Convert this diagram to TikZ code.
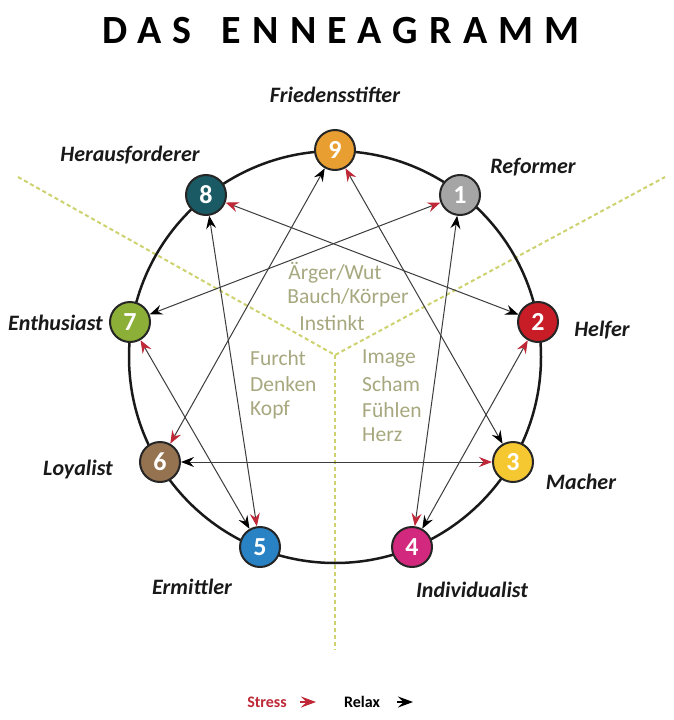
\documentclass[tikz,border=0pt]{standalone}
\usepackage{fontspec}
\setmainfont{Carlito}
\usetikzlibrary{arrows.meta}
\definecolor{cnine}{RGB}{232,158,48}
\definecolor{cone}{RGB}{165,165,165}
\definecolor{ctwo}{RGB}{200,28,38}
\definecolor{cthree}{RGB}{245,200,50}
\definecolor{cfour}{RGB}{210,40,125}
\definecolor{cfive}{RGB}{40,130,195}
\definecolor{csix}{RGB}{150,115,80}
\definecolor{cseven}{RGB}{140,175,55}
\definecolor{ceight}{RGB}{25,90,100}
\definecolor{ctrtext}{RGB}{168,168,128}
\definecolor{zonecol}{RGB}{205,210,110}
\definecolor{stresscol}{RGB}{190,40,55}
\definecolor{linegray}{RGB}{60,60,60}
\begin{document}
\begin{tikzpicture}[x=1pt,y=-1pt,
  num/.style={circle, draw=black!85, line width=2pt, minimum size=40pt, inner sep=0pt, text=white, font=\bfseries\fontsize{26}{26}\selectfont},
  lab/.style={font=\bfseries\itshape\fontsize{22}{22}\selectfont, text=black!90, inner sep=0pt},
  ctr/.style={text=ctrtext, font=\fontsize{21.5}{21.5}\selectfont, inner sep=0pt},
  link/.style={draw=linegray, line width=1pt, {Stealth[black,length=13pt,width=10pt,inset=4.5pt]}-{Stealth[stresscol,length=13pt,width=10pt,inset=4.5pt]}},
  zone/.style={draw=zonecol, line width=2pt, dash pattern=on 4pt off 3pt},
  legend/.style={font=\bfseries\fontsize{16}{16}\selectfont, inner sep=0pt}
]
\useasboundingbox (0,0) rectangle (673,720);
\fill[white] (0,0) rectangle (673,720);
% title
\node (title) at (341,31) {\fontsize{40}{40}\selectfont\bfseries\addfontfeature{LetterSpace=28}DAS\hspace{30pt}ENNEAGRAMM};
% zones
\coordinate (zc) at (335,355);
\coordinate (zul) at (18,177);
\coordinate (zur) at (665,177);
\coordinate (zdn) at (335,650);
\draw[zone] (zul) -- (zc) -- (zur);
\draw[zone] (zc) -- (zdn);
% centre texts
\node[ctr] (t1) at (335,273) {Ärger/Wut};
\node[ctr] (t2) at (348,298) {Bauch/Körper};
\node[ctr] (t3) at (332,323) {Instinkt};
\node[ctr, anchor=west] (f1) at (250,358) {Furcht};
\node[ctr, anchor=west] (f2) at (250,384) {Denken};
\node[ctr, anchor=west] (f3) at (250,410) {Kopf};
\node[ctr, anchor=west] (i1) at (362,358) {Image};
\node[ctr, anchor=west] (i2) at (362,384) {Scham};
\node[ctr, anchor=west] (i3) at (362,410) {Fühlen};
\node[ctr, anchor=west] (i4) at (362,435) {Herz};
% circle
\coordinate (cc) at (335,357);
\draw[line width=2.5pt, black!90] (cc) circle[radius=206];
% nodes
\node[num, fill=cnine] (n9) at (335,150) {9};
\node[num, fill=cone] (n1) at (460,195) {1};
\node[num, fill=ctwo] (n2) at (538,322) {2};
\node[num, fill=cthree] (n3) at (513,462) {3};
\node[num, fill=cfour] (n4) at (412,547) {4};
\node[num, fill=cfive] (n5) at (260,547) {5};
\node[num, fill=csix] (n6) at (160,462) {6};
\node[num, fill=cseven] (n7) at (130,322) {7};
\node[num, fill=ceight] (n8) at (206,195) {8};
% labels
\node[lab] (l9) at (335,95) {Friedensstifter};
\node[lab] (l8) at (130,155) {Herausforderer};
\node[lab] (l1) at (533,167) {Reformer};
\node[lab, anchor=east] (l7) at (103,323) {Enthusiast};
\node[lab] (l2) at (602,330) {Helfer};
\node[lab] (l6) at (78,470) {Loyalist};
\node[lab] (l3) at (581,482) {Macher};
\node[lab] (l5) at (192,587) {Ermittler};
\node[lab] (l4) at (472,590) {Individualist};
% connectors: black tip = relax target, red tip = stress target
\draw[link] (n1) -- (n4);
\draw[link] (n4) -- (n2);
\draw[link] (n2) -- (n8);
\draw[link] (n8) -- (n5);
\draw[link] (n5) -- (n7);
\draw[link] (n7) -- (n1);
\draw[link] (n9) -- (n6);
\draw[link] (n6) -- (n3);
\draw[link] (n3) -- (n9);
% legend
\node[legend, text=stresscol] (lgs) at (267,702) {Stress};
\coordinate (sa) at (300,702);
\coordinate (sb) at (316,702);
\draw[stresscol, line width=1.2pt, -{Stealth[length=15pt,width=11pt,inset=5.5pt]}] (sa) -- (sb);
\node[legend, text=black] (lgr) at (362,702) {Relax};
\coordinate (ra) at (397,702);
\coordinate (rb) at (413,702);
\draw[black, line width=1.2pt, -{Stealth[length=15pt,width=11pt,inset=5.5pt]}] (ra) -- (rb);
\end{tikzpicture}
\end{document}
